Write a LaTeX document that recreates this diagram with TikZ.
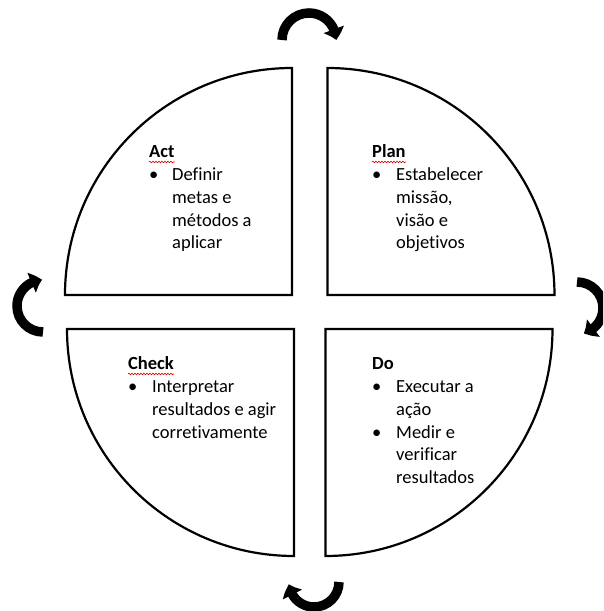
\documentclass[tikz,border=0pt]{standalone}
\usepackage{fontspec}
\setmainfont[Ligatures={NoCommon}]{Carlito}
\usetikzlibrary{arrows.meta,bending,decorations.pathmorphing}

\begin{document}
\begin{tikzpicture}[x=1pt,y=1pt,
  quad/.style={draw=black, line width=2.2pt, fill=white},
  cyc/.style={line width=9.5pt, -{Triangle[width=21pt,length=11pt,bend]}},
  txt/.style={anchor=base west, inner sep=0pt, font=\fontsize{18.5}{22.6}\selectfont},
  title/.style={txt, font=\fontsize{18.5}{22.6}\selectfont\bfseries},
  squiggle/.style={draw=red!85!black, line width=0.6pt, decorate,
    decoration={snake, amplitude=0.8pt, segment length=3pt}}]
\clip (0,0) rectangle (603,611);

% four quadrants of the cycle
\draw[quad] (292,316) -- (65,316) arc[start angle=180, end angle=90, radius=227] -- cycle;
\draw[quad] (327.5,316) -- (327.5,543) arc[start angle=90, end angle=0, radius=227] -- cycle;
\draw[quad] (294,282) -- (294,55) arc[start angle=270, end angle=180, radius=227] -- cycle;
\draw[quad] (325.5,282) -- (552.5,282) arc[start angle=0, end angle=-90, radius=227] -- cycle;

% curved arrows around the cycle
\draw[cyc] (282,571) arc[start angle=180, end angle=0, radius=27];
\draw[cyc] (339,29) arc[start angle=0, end angle=-175, radius=25];
\draw[cyc] (43,279) arc[start angle=-90, end angle=-268, radius=26];
\draw[cyc] (577,329) arc[start angle=90, end angle=-75, radius=26];

% texts
\node[title] (act) at (149,453) {Act};
\node[txt] (actbody) at (149,430) {\begin{tabular}[t]{@{}p{23pt}@{}l@{}}
  \textbullet & Definir\\ & metas e\\ & métodos a\\ & aplicar\end{tabular}};

\node[title] (plan) at (372,453) {Plan};
\node[txt] (planbody) at (372,430) {\begin{tabular}[t]{@{}p{24pt}@{}l@{}}
  \textbullet & Estabelecer\\ & missão,\\ & visão e\\ & objetivos\end{tabular}};

\node[title] (check) at (128,241) {Check};
\node[txt] (checkbody) at (128,218) {\begin{tabular}[t]{@{}p{24pt}@{}l@{}}
  \textbullet & Interpretar\\ & resultados e agir\\ & corretivamente\end{tabular}};

\node[title] (do) at (372,241) {Do};
\node[txt] (dobody) at (372,218) {\begin{tabular}[t]{@{}p{24pt}@{}l@{}}
  \textbullet & Executar a\\ & ação\\ \textbullet & Medir e\\ & verificar\\ & resultados\end{tabular}};

% spelling marks under the titles
\draw[squiggle] ([yshift=-4pt]act.base west) -- ([yshift=-4pt]act.base east);
\draw[squiggle] ([yshift=-4pt]plan.base west) -- ([yshift=-4pt]plan.base east);
\draw[squiggle] ([yshift=-4pt]check.base west) -- ([yshift=-4pt]check.base east);
\end{tikzpicture}
\end{document}
